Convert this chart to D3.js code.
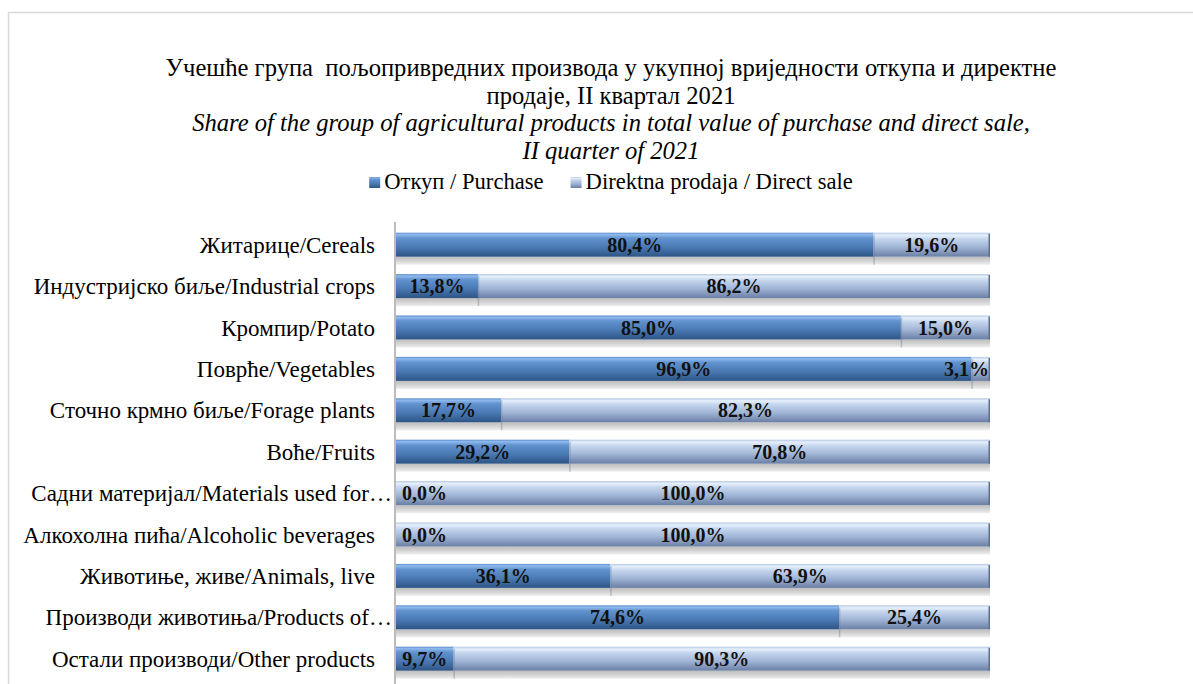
<!DOCTYPE html>
<html><head><meta charset="utf-8">
<script src="https://cdn.jsdelivr.net/npm/d3@7"></script>
<style>body{margin:0;background:#fff}svg{display:block}</style>
</head><body>
<svg id="c" width="1193" height="684"></svg>
<script>
const categories = [
  "Житарице/Cereals",
  "Индустријско биље/Industrial crops",
  "Кромпир/Potato",
  "Поврће/Vegetables",
  "Сточно крмно биље/Forage plants",
  "Воће/Fruits",
  "Садни материјал/Materials used for…",
  "Алкохолна пића/Alcoholic beverages",
  "Животиње, живе/Animals, live",
  "Производи животиња/Products of…",
  "Остали производи/Other products"
];
const purchase   = [80.4, 13.8, 85.0, 96.9, 17.7, 29.2, 0.0, 0.0, 36.1, 74.6, 9.7];
const directSale = [19.6, 86.2, 15.0, 3.1, 82.3, 70.8, 100.0, 100.0, 63.9, 25.4, 90.3];
const seriesNames = ["Откуп / Purchase", "Direktna prodaja / Direct sale"];
const titleLines = [
  "Учешће група  пољопривредних производа у укупној вриједности откупа и директне",
  "продаје, II квартал 2021"
];
const subtitleLines = [
  "Share of the group of agricultural products in total value of purchase and direct sale,",
  "II quarter of 2021"
];

const svg = d3.select("#c");
const FONT = "'Liberation Serif', 'DejaVu Serif', serif";
const defs = svg.append("defs");
function grad(id, stops){
  const g = defs.append("linearGradient").attr("id", id).attr("x1",0).attr("y1",0).attr("x2",0).attr("y2",1);
  stops.forEach(s => g.append("stop").attr("offset", s[0]).attr("stop-color", s[1]));
}
grad("gP", [[0,"#5c8dca"],[0.08,"#90baee"],[0.22,"#6394d0"],[0.6,"#4a79b3"],[1,"#2d5585"]]);
grad("gD", [[0,"#b4c8e4"],[0.1,"#e6f0fb"],[0.25,"#c6d7ee"],[0.6,"#a0b4d5"],[1,"#6a7fa5"]]);
grad("gS", [[0,"#bdbdbd"],[0.5,"#d3d3d3"],[1,"#efefef"]]);

// frame
svg.append("rect").attr("x",8.5).attr("y",12.5).attr("width",1220).attr("height",720)
  .attr("fill","none").attr("stroke","#d9d9d9").attr("stroke-width",1.5);

const cx = 611;
const t = svg.append("g").attr("font-family", FONT).attr("fill","#000").attr("text-anchor","middle");
titleLines.forEach((s,i)=> t.append("text").attr("x",cx).attr("y",76+i*27.5).attr("font-size",24.6)
  .style("white-space","pre").text(s));
subtitleLines.forEach((s,i)=> t.append("text").attr("x",cx).attr("y",131+i*27.5).attr("font-size",24.6)
  .attr("font-style","italic").text(s));

// legend
const leg = svg.append("g").attr("font-family", FONT).attr("font-size",22.6);
const legItems = leg.selectAll("g").data(seriesNames).join("g");
legItems.append("rect").attr("width",11).attr("height",11).attr("y",-12)
  .attr("fill",(d,i)=> i===0 ? "url(#gP)" : "url(#gD)");
legItems.append("text").attr("x",15).text(d=>d);
const gap = 27;
const widths = legItems.nodes().map(n=>n.getBBox().width);
const totalW = widths.reduce((a,b)=>a+b,0) + gap;
const lx = cx - totalW/2;
legItems.attr("transform",(d,i)=>{ const x = lx + (i ? widths[0]+gap : 0); return `translate(${x},189)`; });

// scales
const x = d3.scaleLinear().domain([0,100]).range([396, 990]);
const y = d3.scaleBand().domain(categories).range([224, 224 + 41.4*11]).paddingInner(0.42).paddingOuter(0.21);
const bh = y.bandwidth();

const rows = svg.append("g").selectAll("g").data(categories).join("g")
  .attr("transform", d => `translate(0,${y(d)})`);

// shadow
rows.append("rect").attr("x", x(0)).attr("y", bh).attr("width", x(100)-x(0)).attr("height", 8).attr("fill","url(#gS)");
// purchase
rows.append("rect").attr("x", x(0)).attr("y",0).attr("height",bh)
  .attr("width",(d,i)=> x(purchase[i]) - x(0)).attr("fill","url(#gP)");
// direct sale
rows.append("rect").attr("x",(d,i)=> x(purchase[i])).attr("y",0).attr("height",bh)
  .attr("width",(d,i)=> x(purchase[i]+directSale[i]) - x(purchase[i])).attr("fill","url(#gD)");
// segment edges
rows.append("line").attr("x1",(d,i)=>x(purchase[i])+0.5).attr("x2",(d,i)=>x(purchase[i])+0.5)
  .attr("y1",2).attr("y2",bh+8).attr("stroke","#5d6f8e").attr("stroke-opacity",0.35).attr("stroke-width",1.5)
  .attr("display",(d,i)=> purchase[i] > 0 ? null : "none");
rows.append("line").attr("x1",x(100)-0.75).attr("x2",x(100)-0.75).attr("y1",1).attr("y2",bh)
  .attr("stroke","#5e6f8c").attr("stroke-width",1.5);

// category labels (truncated ones run up to the axis, as in the original)
svg.append("g").attr("font-family",FONT).attr("font-size",23).attr("text-anchor","end")
  .selectAll("text").data(categories).join("text")
  .attr("x", d => d.endsWith("…") ? 392 : 375).attr("y", d => y(d)+bh/2).attr("dy","0.35em").text(d=>d);

// axis line
svg.append("line").attr("x1",395).attr("x2",395).attr("y1",222).attr("y2",684)
  .attr("stroke","#a6a6a6").attr("stroke-width",1.5);

// data labels
const fmt = v => v.toFixed(1).replace(".", ",") + "%";
const lab = svg.append("g").attr("font-family",FONT).attr("font-size",20).attr("font-weight","bold")
  .attr("fill","#111").attr("text-anchor","middle");
categories.forEach((c,i)=>{
  const segs = [[0, purchase[i]], [purchase[i], purchase[i]+directSale[i]]];
  const vals = [purchase[i], directSale[i]];
  segs.forEach((s,k)=>{
    const tx = lab.append("text").attr("y", y(c)+bh/2).attr("dy","0.35em").text(fmt(vals[k]));
    const w = tx.node().getComputedTextLength();
    let mid = (x(s[0])+x(s[1]))/2;
    mid = Math.max(mid, x(0) + 6 + w/2);
    mid = Math.min(mid, x(100) - 1 - w/2);
    tx.attr("x", mid);
  });
});
</script>
</body></html>
